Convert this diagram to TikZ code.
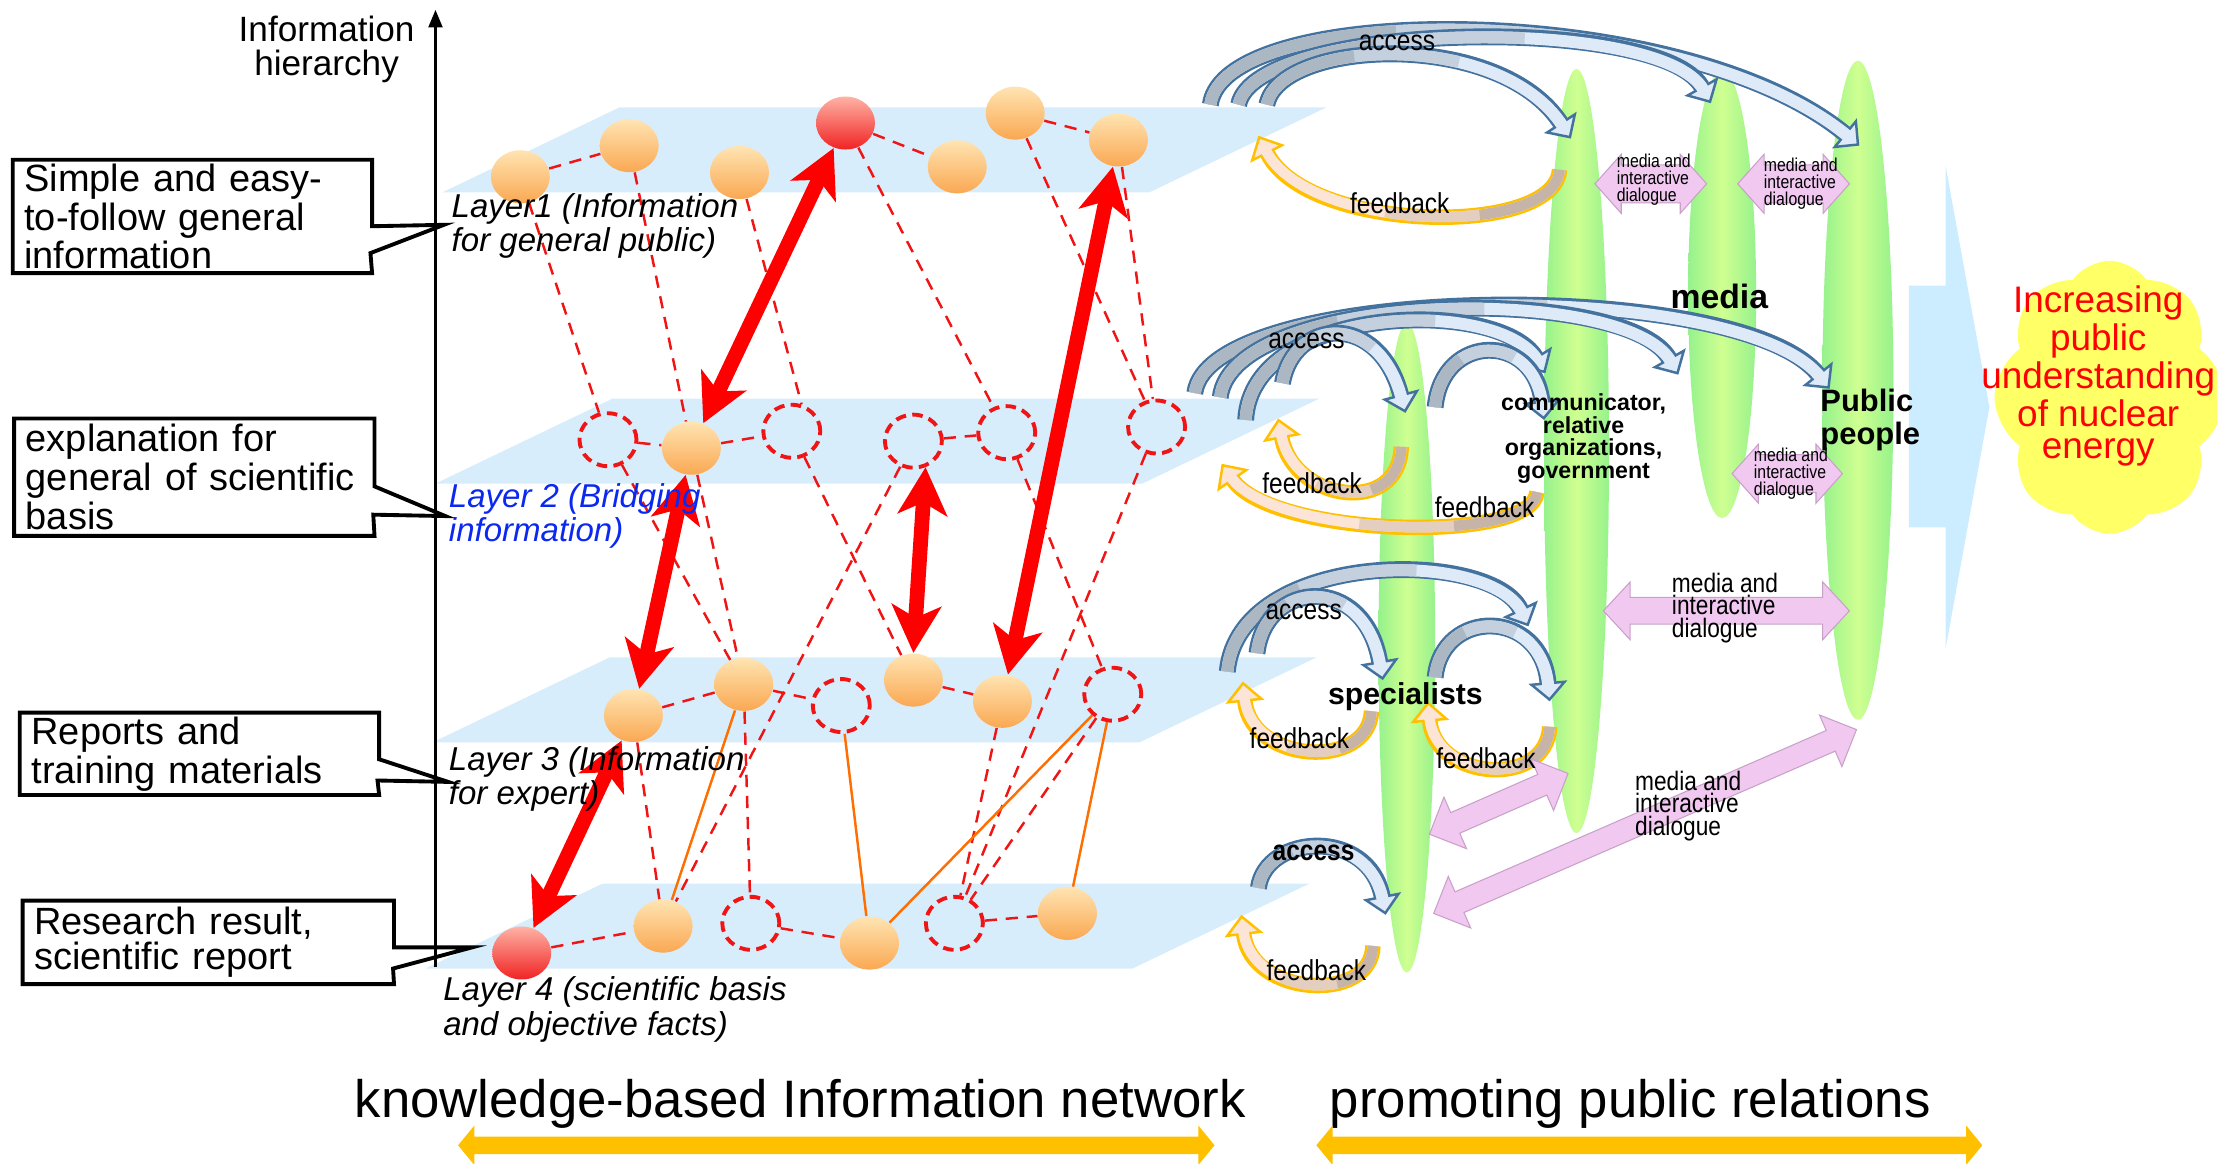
\documentclass[tikz,border=0pt]{standalone}
\usepackage{fontspec}
\setmainfont{Liberation Sans}
\newfontfamily\narrowfont[FakeStretch=0.85]{Liberation Sans}
\usetikzlibrary{calc,arrows.meta,shapes.geometric,shapes.symbols}

\definecolor{planeblue}{RGB}{216,237,252}
\definecolor{ballhi}{RGB}{255,228,178}
\definecolor{balllo}{RGB}{250,168,82}
\definecolor{redhi}{RGB}{255,178,165}
\definecolor{redlo}{RGB}{240,35,35}
\definecolor{linkred}{RGB}{240,20,20}
\definecolor{linkorange}{RGB}{255,110,0}
\definecolor{layerblue}{RGB}{10,40,240}
\definecolor{greenedge}{RGB}{150,242,140}
\definecolor{greenmid}{RGB}{208,255,145}
\definecolor{accline}{RGB}{68,114,158}
\definecolor{acclight}{RGB}{222,234,247}
\definecolor{accmid}{RGB}{196,208,222}
\definecolor{accdark}{RGB}{172,183,196}
\definecolor{fbline}{RGB}{255,192,0}
\definecolor{fblight}{RGB}{252,229,215}
\definecolor{fbmid}{RGB}{228,206,192}
\definecolor{fbdark}{RGB}{198,180,168}
\definecolor{dialogpink}{RGB}{240,200,240}
\definecolor{dialogedge}{RGB}{200,160,200}
\definecolor{bigblue}{RGB}{204,236,255}
\definecolor{cloudyellow}{RGB}{255,255,102}
\definecolor{bargold}{RGB}{255,192,0}

% style, tip, tip, shaft half width, head half width, head length
\newcommand{\dblarrow}[6]{%
  \coordinate (dbA) at ($(#2)!#6!(#3)$);
  \coordinate (dbB) at ($(#3)!#6!(#2)$);
  \fill[#1] (#2) -- ($(dbA)!#5!90:(#3)$) -- ($(dbA)!#4!90:(#3)$)
    -- ($(dbB)!#4!90:(#3)$) -- ($(dbB)!#5!90:(#3)$) -- (#3)
    -- ($(dbB)!#5!270:(#3)$) -- ($(dbB)!#4!270:(#3)$)
    -- ($(dbA)!#4!270:(#3)$) -- ($(dbA)!#5!270:(#3)$) -- cycle;}

\tikzset{
  plane/.style={fill=planeblue},
  ball/.style={ellipse, minimum width=5.9mm, minimum height=5.3mm, inner sep=0pt,
    top color=ballhi, bottom color=balllo},
  redball/.style={ball, top color=redhi, bottom color=redlo},
  hole/.style={ellipse, minimum width=5.7mm, minimum height=5.3mm, inner sep=0pt,
    draw=linkred, line width=1.1pt, dash pattern=on 3pt off 1.8pt},
  link/.style={linkred, line width=0.7pt, dash pattern=on 3.5pt off 2.5pt},
  solidlink/.style={linkorange, line width=0.7pt},
  bigred/.style={red, line width=4.2pt,
    {Stealth[length=13.5pt,width=14pt,inset=3.5pt]}-{Stealth[length=13.5pt,width=14pt,inset=3.5pt]}},
  layerlabel/.style={anchor=west, align=left, inner sep=0pt,
    font=\fontsize{9.4}{8.2}\selectfont\itshape},
  callout/.style={anchor=north west, align=left, inner xsep=1.1mm, inner ysep=0pt,
    font=\fontsize{10.8}{10}\selectfont},
  boxline/.style={line width=1.1pt, line join=miter},
  greenell/.style={ellipse, inner sep=0pt, left color=greenedge, right color=greenedge,
    middle color=greenmid},
  access/.style 2 args={draw=acclight, line width=3.4pt, shorten >=4.4pt,
    preaction={draw=accline, line width=4.8pt, shorten >=0pt,
      -{Triangle[length=5.5pt,width=11pt,line width=0.7pt,fill=acclight,color=accline]}},
    postaction={draw=accmid, line width=3.4pt, shorten >=4.4pt, dash pattern=on #1pt off 4000pt},
    postaction={draw=accdark, line width=3.4pt, shorten >=4.4pt, dash pattern=on #2pt off 4000pt}},
  feedback/.style 2 args={draw=fblight, line width=3pt, shorten >=4.6pt,
    preaction={draw=fbline, line width=4.4pt, shorten >=0pt,
      -{Triangle[length=5.8pt,width=11pt,line width=0.7pt,fill=fblight,color=fbline]}},
    postaction={draw=fbmid, line width=3pt, shorten >=4.6pt, dash pattern=on #1pt off 4000pt},
    postaction={draw=fbdark, line width=3pt, shorten >=4.6pt, dash pattern=on #2pt off 4000pt}},
  flowlabel/.style={inner sep=0pt, font=\narrowfont\fontsize{8.2}{8}\selectfont},
  rolelabel/.style={inner sep=0pt, font=\bfseries\fontsize{9.6}{9.4}\selectfont},
  dialog/.style={fill=dialogpink, draw=dialogedge, line width=0.3pt, line join=miter},
  dialogtext/.style={anchor=west, align=left, inner sep=0pt},
  bar/.style={fill=bargold},
}

\pgfdeclarelayer{planes}
\pgfdeclarelayer{links}
\pgfsetlayers{planes,links,main}

\begin{document}
\begin{tikzpicture}[x=0.1414mm,y=-0.1414mm]
\useasboundingbox (0,0) rectangle (1568,823);

% the four layers
\begin{pgfonlayer}{planes}
\foreach \bx/\by in {313/136, 308/342, 306/525, 301/685}
  \fill[plane] (\bx,\by) -- ++(500,0) -- ++(125,-60) -- ++(-500,0) -- cycle;
\end{pgfonlayer}

% hierarchy axis
\draw[line width=0.6pt, -{Triangle[length=5pt,width=4pt]}] (308,684) -- (308,7);
\node[align=center, font=\fontsize{10}{9.6}\selectfont] (hier) at (231,35) {Information\\hierarchy};

% layer 1
\node[ball] (l1a) at (368,125) {};
\node[ball] (l1b) at (445,103) {};
\node[ball] (l1c) at (523,122) {};
\node[redball] (l1r) at (598,87) {};
\node[ball] (l1d) at (677,118) {};
\node[ball] (l1e) at (718,80) {};
\node[ball] (l1f) at (791,99) {};
% layer 2
\node[hole] (l2a) at (430,311) {};
\node[ball] (l2b) at (489,317) {};
\node[hole] (l2c) at (560,305) {};
\node[hole] (l2d) at (646,312) {};
\node[hole] (l2e) at (712,306) {};
\node[hole] (l2f) at (818,302) {};
% layer 3
\node[ball] (l3a) at (448,506) {};
\node[ball] (l3b) at (526,484) {};
\node[hole] (l3c) at (595,499) {};
\node[ball] (l3d) at (646,481) {};
\node[ball] (l3e) at (709,496) {};
\node[hole] (l3f) at (787,491) {};
% layer 4
\node[redball] (l4r) at (369,674) {};
\node[ball] (l4a) at (469,655) {};
\node[hole] (l4b) at (531,653) {};
\node[ball] (l4c) at (615,667) {};
\node[hole] (l4d) at (675,653) {};
\node[ball] (l4e) at (755,646) {};

\begin{pgfonlayer}{links}
\draw[link] (l1a) -- (l1b) (l1r) -- (l1d) (l1e) -- (l1f)
  (l2a) -- (l2b) (l2b) -- (l2c) (l2d) -- (l2e)
  (l3a) -- (l3b) (l3b) -- (l3c) (l3d) -- (l3e)
  (l4r) -- (l4a) (l4b) -- (l4c) (l4d) -- (l4e);
\draw[link] (l1a) -- (l2a) (l1b) -- (l2b) (l1c) -- (l2c.70) (l1r) -- (l2e)
  (l1e) -- (l2f) (l1f) -- (l2f);
\draw[link] (l2a) -- (l3b) (l2b) -- (l3b) (l2c) -- (l3d) (l2d) -- (l4a)
  (l2e) -- (l3f) (l2f) -- (l4d);
\draw[link] (l3a) -- (l4a) (l3b) -- (l4b) (l3e) -- (l4d) (l3f) -- (l4d);
\draw[solidlink] (l3b) -- (l4a) (l3c) -- (l4c) (l3f) -- (l4c) (l3f) -- (l4e);
\end{pgfonlayer}

\draw[bigred] (l1r) -- (l2b);
\draw[bigred] (l1f) -- (l3e);
\draw[bigred] (l2d.-65) -- (l3d.north);
\draw[bigred] (l2b) -- (l3a);
\draw[bigred] (l3a) -- (l4r);

\node[layerlabel] (lab1) at (319,160) {Layer1 (Information\\for general public)};
\node[layerlabel, text=layerblue] (lab2) at (317,365) {Layer 2 (Bridging\\information)};
\node[layerlabel] (lab3) at (317,551) {Layer 3 (Information\\for expert)};
\node[layerlabel] (lab4) at (313,714) {Layer 4 (scientific basis\\and objective facts)};

% callouts
\coordinate (tip1) at (314,159);
\coordinate (tip2) at (315,365);
\coordinate (tip3) at (317,553);
\coordinate (tip4) at (334,670);
\node[callout, text width=33.6mm, minimum height=11.2mm] (box1) at (9,113)
  {Simple and easy-\\to-follow general\\information};
\node[callout, text width=33.7mm, minimum height=11.6mm] (box2) at (10,296)
  {explanation for\\general of scientific\\basis};
\node[callout, text width=33.6mm, minimum height=8.1mm] (box3) at (14,504)
  {Reports and\\training materials};
\node[callout, text width=34.8mm, minimum height=8.2mm] (box4) at (16,637)
  {Research result,\\scientific report};
\draw[boxline] (box1.north west) -- (box1.north east) -- ++(0,47) -- (tip1) -- ++(-52,20)
  -- (box1.south east) -- (box1.south west) -- cycle;
\draw[boxline] (box2.north west) -- (box2.north east) -- ++(0,48) -- (tip2) -- ++(-51,-1)
  -- (box2.south east) -- (box2.south west) -- cycle;
\draw[boxline] (box3.north west) -- (box3.north east) -- ++(0,33) -- (tip3) -- ++(-50,-1)
  -- (box3.south east) -- (box3.south west) -- cycle;
\draw[boxline] (box4.north west) -- (box4.north east) -- ++(0,33) -- (tip4) -- ++(-56,15)
  -- (box4.south east) -- (box4.south west) -- cycle;

% actors
\node[greenell, minimum width=5.66mm, minimum height=65mm] (spec) at (995,458) {};
\node[greenell, minimum width=6.5mm, minimum height=76.4mm] (comm) at (1115,319) {};
\node[greenell, minimum width=6.8mm, minimum height=44.8mm] (media) at (1218,208) {};
\node[greenell, minimum width=7.1mm, minimum height=65.9mm] (pub) at (1314,276) {};

\fill[bigblue] (1350,202) -- (1376,202) -- (1376,117) -- (1407,288) -- (1376,459)
  -- (1376,373) -- (1350,373) -- cycle;
\node[cloud, cloud puffs=8, cloud puff arc=110, cloud ignores aspect, fill=cloudyellow,
  inner sep=0pt, minimum width=23mm, minimum height=27.3mm] (goal) at (1492,281) {};
\node[text=red, align=center, inner sep=0pt, font=\fontsize{10.5}{9.1}\selectfont]
  (goaltext) at (1484,266) {Increasing\\public\\understanding\\of nuclear\\energy};

% access and feedback
\coordinate (ac1t) at (856,74);   \coordinate (ac1h) at (1315,103);
\coordinate (ac2t) at (876,74);   \coordinate (ac2h) at (1210,73);
\coordinate (ac3t) at (896,74);   \coordinate (ac3h) at (1111,98);
\coordinate (fb1t) at (1103,120); \coordinate (fb1h) at (890,96);
\draw[access={120}{60}] (ac1t) .. controls +(10,-74) and +(-125,-103) .. (ac1h);
\draw[access={87}{44}] (ac2t) .. controls +(12,-59) and +(-35,-63) .. (ac2h);
\draw[access={60}{30}] (ac3t) .. controls +(9,-46) and +(-51,-78) .. (ac3h);
\draw[feedback={55}{28}] (fb1t) .. controls +(-3,48) and +(35,69) .. (fb1h);

\coordinate (ac4t) at (845,278);  \coordinate (ac4h) at (1294,275);
\coordinate (ac5t) at (863,281);  \coordinate (ac5h) at (1187,265);
\coordinate (ac6t) at (881,297);  \coordinate (ac6h) at (1093,264);
\coordinate (ac7t) at (907,271);  \coordinate (ac7h) at (994,292);
\coordinate (ac8t) at (1015,288); \coordinate (ac8h) at (1092,297);
\coordinate (fb2t) at (991,316);  \coordinate (fb2h) at (904,296);
\coordinate (fb3t) at (1087,348); \coordinate (fb3h) at (864,328);
\draw[access={108}{54}] (ac4t) .. controls +(10,-78) and +(-64,-80) .. (ac4h);
\draw[access={84}{42}] (ac5t) .. controls +(9,-76) and +(-37,-65) .. (ac5h);
\draw[access={67}{33}] (ac6t) .. controls +(4,-82) and +(-33,-54) .. (ac6h);
\draw[access={34}{17}] (ac7t) .. controls +(8,-46) and +(-19,-72) .. (ac7h);
\draw[access={32}{16}] (ac8t) .. controls +(5,-53) and +(-7,-62) .. (ac8h);
\draw[feedback={32}{16}] (fb2t) .. controls +(-1,49) and +(11,59) .. (fb2h);
\draw[feedback={54}{27}] (fb3t) .. controls +(-2,37) and +(36,52) .. (fb3h);

\coordinate (ac9t) at (868,475);  \coordinate (ac9h) at (1081,443);
\coordinate (ac10t) at (889,462); \coordinate (ac10h) at (978,481);
\coordinate (ac11t) at (1015,479);\coordinate (ac11h) at (1096,496);
\coordinate (fb4t) at (970,503);  \coordinate (fb4h) at (879,482);
\coordinate (fb5t) at (1096,514); \coordinate (fb5h) at (1010,496);
\draw[access={67}{33}] (ac9t) .. controls +(8,-87) and +(-26,-55) .. (ac9h);
\draw[access={34}{17}] (ac10t) .. controls +(6,-52) and +(-13,-76) .. (ac10h);
\draw[access={31}{16}] (ac11t) .. controls +(5,-49) and +(-6,-66) .. (ac11h);
\draw[feedback={30}{15}] (fb4t) .. controls +(-2,42) and +(6,58) .. (fb4h);
\draw[feedback={29}{15}] (fb5t) .. controls +(-2,44) and +(5,56) .. (fb5h);

\coordinate (ac12t) at (890,628); \coordinate (ac12h) at (980,647);
\coordinate (fb6t) at (971,669);  \coordinate (fb6h) at (878,647);
\draw[access={30}{15}] (ac12t) .. controls +(5,-38) and +(-12,-62) .. (ac12h);
\draw[feedback={32}{16}] (fb6t) .. controls +(-1,41) and +(7,58) .. (fb6h);

% media and interactive dialogue
\coordinate (dg1a) at (1128,130); \coordinate (dg1b) at (1207,130);
\coordinate (dg2a) at (1229,130); \coordinate (dg2b) at (1308,130);
\coordinate (dg3a) at (1225,335); \coordinate (dg3b) at (1303,335);
\coordinate (dg4a) at (1134,432); \coordinate (dg4b) at (1308,432);
\coordinate (dg5a) at (1011,590); \coordinate (dg5b) at (1109,547);
\coordinate (dg6a) at (1014,646); \coordinate (dg6b) at (1313,516);
\dblarrow{dialog}{dg1a}{dg1b}{5.4pt}{8.4pt}{7.5pt}
\dblarrow{dialog}{dg2a}{dg2b}{5.4pt}{8.4pt}{7.5pt}
\dblarrow{dialog}{dg3a}{dg3b}{5.4pt}{8.4pt}{7.5pt}
\dblarrow{dialog}{dg4a}{dg4b}{3.8pt}{8.2pt}{7.6pt}
\dblarrow{dialog}{dg5a}{dg5b}{3.2pt}{8pt}{8pt}
\dblarrow{dialog}{dg6a}{dg6b}{3.2pt}{8pt}{8pt}
\node[dialogtext, font=\narrowfont\fontsize{5.3}{4.8}\selectfont] (dt1) at (1143,127) {media and\\interactive\\dialogue};
\node[dialogtext, font=\narrowfont\fontsize{5.3}{4.8}\selectfont] (dt2) at (1247,130) {media and\\interactive\\dialogue};
\node[dialogtext, font=\narrowfont\fontsize{5.3}{4.8}\selectfont] (dt3) at (1240,335) {media and\\interactive\\dialogue};
\node[dialogtext, font=\narrowfont\fontsize{7.6}{6.5}\selectfont] (dt4) at (1182,430) {media and\\interactive\\dialogue};
\node[dialogtext, font=\narrowfont\fontsize{7.6}{6.5}\selectfont] (dt6) at (1156,570) {media and\\interactive\\dialogue};

% labels
\node[flowlabel] (acc1lab) at (988,30) {access};
\node[flowlabel] (fb1lab) at (990,144) {feedback};
\node[flowlabel] (acc2lab) at (924,241) {access};
\node[flowlabel] (fb2lab) at (928,342) {feedback};
\node[flowlabel] (fb3lab) at (1050,359) {feedback};
\node[flowlabel] (acc3lab) at (922,433) {access};
\node[flowlabel] (fb4lab) at (919,522) {feedback};
\node[flowlabel] (fb5lab) at (1051,536) {feedback};
\node[flowlabel, font=\narrowfont\bfseries\fontsize{8.2}{8}\selectfont] (acc4lab) at (929,603) {access};
\node[flowlabel] (fb6lab) at (931,686) {feedback};
\node[rolelabel, font=\bfseries\fontsize{8.6}{8.6}\selectfont] (speclab) at (994,493) {specialists};
\node[rolelabel, align=center, font=\bfseries\fontsize{6.6}{6.4}\selectfont] (commlab) at (1120,310)
  {communicator,\\relative\\organizations,\\government};
\node[rolelabel] (medialab) at (1216,210) {media};
\node[rolelabel, anchor=west, align=left, font=\bfseries\fontsize{8.8}{9.2}\selectfont] (publab) at (1287,297) {Public\\people};

% bottom
\node[font=\fontsize{15}{15}\selectfont] (kbin) at (566,781) {knowledge-based Information network};
\node[font=\fontsize{15}{15}\selectfont] (ppr) at (1153,781) {promoting public relations};
\coordinate (kbl) at (324,810); \coordinate (kbr) at (859,810);
\coordinate (ppl) at (931,810); \coordinate (ppr2) at (1402,810);
\dblarrow{bar}{kbl}{kbr}{2.5pt}{5.6pt}{4.6pt}
\dblarrow{bar}{ppl}{ppr2}{2.5pt}{5.6pt}{4.6pt}
\end{tikzpicture}
\end{document}
